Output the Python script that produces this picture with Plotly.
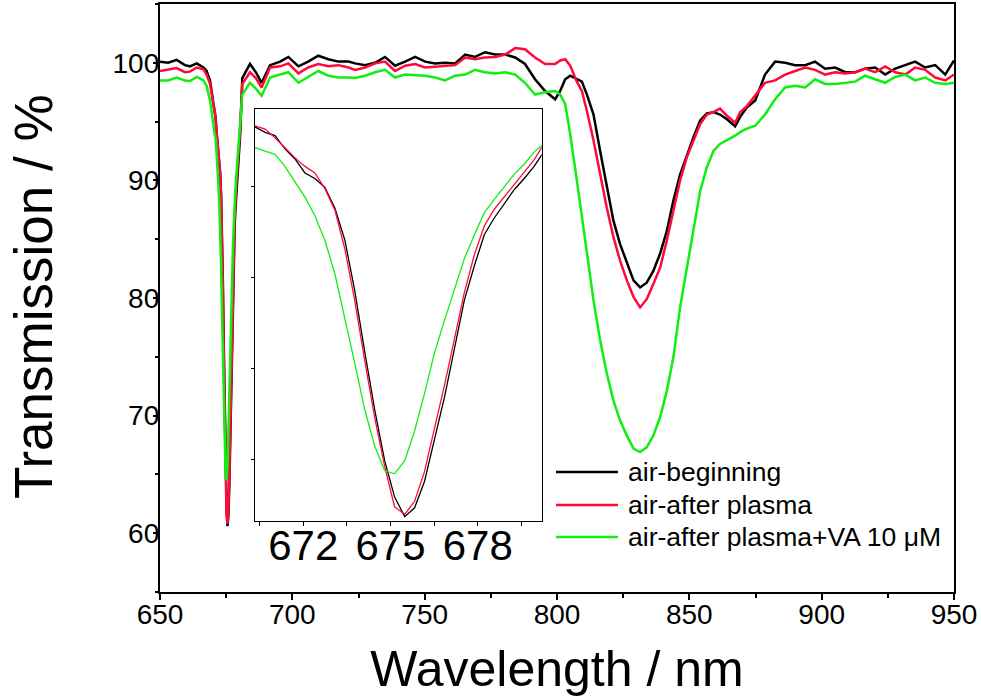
import plotly.graph_objects as go

# wavelength (nm) and transmission (%)
wavelength = [650.0, 653.1, 656.3, 659.4, 661.3, 663.9, 666.4, 667.6, 668.9,
              670.34, 670.69, 671.03, 671.37, 671.71, 672.06, 672.40, 672.74, 673.09, 673.43,
              673.77, 674.11, 674.46, 674.80, 675.14, 675.49, 675.83, 676.17, 676.51, 676.86,
              677.20, 677.54, 677.89, 678.23, 678.57, 678.91, 679.26, 679.60, 679.94, 680.29,
              681.1, 684.0, 686.2, 688.4, 691.6, 695.4, 698.5, 702.3, 706.0, 709.8, 713.6, 717.4, 721.2,
              723.7, 727.5, 731.3, 735.0, 738.8, 742.6, 746.4, 750.2, 753.9, 757.7, 761.5, 765.3,
              769.0, 772.8, 776.6, 780.4, 784.2, 787.9, 791.7, 795.5,
              799.3, 801.2, 803.1, 805.0, 807.5, 809.4, 811.3, 813.8, 816.3, 818.8, 821.3, 823.8,
              826.4, 828.9, 831.4, 833.9, 836.4, 839.0, 841.5, 844.0, 846.5, 849.1, 851.6, 854.1,
              856.6, 859.1, 861.6, 864.2, 867.3, 869.2, 871.7,
              874.9, 878.6, 882.4, 886.2, 890.0, 893.8, 897.5, 901.3, 905.1, 908.9, 912.7, 916.4,
              920.2, 924.0, 927.8, 931.6, 935.3, 939.1, 942.9, 946.7, 950.0]

air_beginning = [100.1, 100.0, 100.25, 99.8, 99.7, 99.95, 99.6, 99.3, 98.5,
                 96.1, 95.6, 95.3, 94.1, 93.2, 91.9, 91.4, 90.6, 88.7, 85.8,
                 81.2, 75.7, 70.3, 65.7, 62.4, 60.6, 61.4, 63.8, 67.6, 71.5,
                 75.9, 80.3, 83.5, 86.3, 87.8, 89.1, 90.4, 91.4, 92.5, 93.9,
                 98.7, 99.9, 99.2, 98.3, 99.8, 100.1, 100.5, 99.7, 100.1, 100.6, 100.3, 100.1, 100.1,
                 99.95, 99.8, 100.0, 100.5, 99.75, 100.1, 100.5, 100.1, 99.95, 100.0, 99.95, 100.7,
                 100.5, 100.9, 100.7, 100.7, 100.45, 99.9, 98.6, 97.6,
                 96.9, 97.6, 98.6, 98.9, 98.6, 98.4, 97.3, 95.6, 92.5, 89.7, 86.6, 84.6,
                 83.0, 81.5, 80.9, 81.3, 82.3, 83.8, 85.7, 88.3, 90.5, 92.2, 93.7, 95.1,
                 95.7, 95.8, 95.6, 95.2, 94.6, 95.4, 96.2,
                 96.8, 99.0, 100.1, 100.0, 99.8, 99.8, 100.1, 99.5, 99.6, 99.2, 99.2, 99.5,
                 99.6, 99.0, 99.5, 99.8, 100.1, 99.6, 99.8, 99.0, 100.2]

air_after_plasma = [99.3, 99.4, 99.55, 99.2, 99.25, 99.6, 99.45, 99.0, 98.2,
                    96.2, 95.9, 95.1, 94.2, 93.3, 92.5, 91.9, 90.5, 88.5, 85.0,
                    80.3, 74.9, 69.6, 65.2, 61.5, 60.8, 62.0, 64.7, 68.5, 72.6,
                    76.8, 81.0, 84.5, 87.1, 88.6, 89.7, 90.9, 91.9, 93.1, 94.6,
                    98.2, 99.2, 98.7, 97.9, 99.6, 99.7, 99.95, 99.1, 99.6, 99.9, 99.7, 99.8, 99.6,
                    99.4, 99.6, 99.95, 100.1, 99.3, 99.75, 99.9, 99.6, 99.65, 99.75, 99.8, 100.45,
                    100.3, 100.45, 100.5, 100.7, 101.25, 101.15, 100.45, 99.9,
                    99.9, 100.2, 100.3, 99.75, 98.4, 97.6, 95.9, 93.4, 90.5, 87.7, 85.2, 83.2,
                    81.5, 80.1, 79.2, 79.9, 81.2, 82.6, 84.9, 87.4, 90.0, 92.0, 93.4, 94.8,
                    95.6, 95.8, 96.1, 95.5, 94.9, 95.8, 96.3,
                    97.2, 98.3, 98.5, 99.0, 99.3, 99.6, 99.4, 99.0, 99.2, 99.1, 99.2, 99.5,
                    99.2, 99.7, 99.2, 99.0, 99.6, 99.4, 98.75, 98.5, 99.0]

air_plasma_va = [98.5, 98.5, 98.75, 98.5, 98.45, 98.8, 98.5, 98.05, 96.8,
                 94.2, 93.9, 93.6, 92.5, 91.1, 89.7, 88.0, 85.8, 82.7, 78.8,
                 74.6, 70.4, 67.0, 64.8, 64.5, 65.7, 68.4, 71.8, 75.5, 78.5,
                 81.3, 84.1, 86.3, 88.3, 89.5, 90.6, 91.8, 92.7, 93.8, 94.6,
                 97.3, 98.3, 97.8, 97.2, 98.75, 99.0, 99.2, 98.3, 98.8, 99.3, 98.9, 98.75, 98.75,
                 98.7, 98.9, 99.2, 99.4, 98.75, 99.0, 98.98, 98.9, 98.75, 98.5, 98.9, 99.0,
                 99.4, 99.2, 99.1, 99.2, 99.0, 98.3, 97.3, 97.5,
                 97.6, 97.3, 96.5, 93.9, 90.0, 86.8, 83.8, 79.8, 76.4, 73.6, 71.3, 69.6,
                 68.3, 67.2, 66.9, 67.3, 68.3, 69.9, 72.1, 75.0, 79.2, 82.6, 86.0, 89.1,
                 91.1, 92.5, 93.1, 93.4, 93.8, 94.1, 94.4,
                 94.65, 95.6, 96.9, 97.9, 98.05, 97.9, 98.6, 98.2, 98.2, 98.3, 98.4, 98.9,
                 98.6, 98.3, 98.8, 99.0, 98.5, 98.75, 98.3, 98.2, 98.3]

series_names = ["air-beginning", "air-after plasma", "air-after plasma+VA 10 \u03bcM"]
series_values = [air_beginning, air_after_plasma, air_plasma_va]
colors = ["#000000", "#ff0a3a", "#11ee11"]

inset_ticks = [672, 675, 678]

font_family = "Liberation Sans, Arial, sans-serif"

fig = go.Figure()
for name, vals, col in zip(series_names, series_values, colors):
    fig.add_trace(go.Scatter(x=wavelength, y=vals, mode="lines", name=name,
                             line=dict(color=col, width=2.5), xaxis="x", yaxis="y",
                             showlegend=False))
for name, vals, col in zip(series_names, series_values, colors):
    fig.add_trace(go.Scatter(x=wavelength, y=vals, mode="lines", name=name,
                             line=dict(color=col, width=1.3), xaxis="x2", yaxis="y2",
                             showlegend=False))

axis_common = dict(showgrid=False, zeroline=False, showline=True, linecolor="black",
                   ticks="outside", tickcolor="black", mirror=True, automargin=False)

fig.update_layout(
    width=981, height=698,
    margin=dict(l=160, r=27, t=4, b=106),
    paper_bgcolor="white", plot_bgcolor="white",
    font=dict(family=font_family, color="black"),
    xaxis=dict(axis_common, range=[650, 950], tick0=650, dtick=50, linewidth=2.3,
               ticklen=6, tickwidth=2, tickfont=dict(size=28), ticklabelstandoff=-10,
               minor=dict(dtick=25, ticks="outside", ticklen=3.5, tickwidth=1.5, tickcolor="black"),
               title=dict(text="Wavelength / nm", font=dict(size=50), standoff=22)),
    yaxis=dict(axis_common, range=[55, 105], tick0=60, dtick=10, linewidth=2.3,
               ticklen=5, tickwidth=2, tickfont=dict(size=28), ticklabelstandoff=-12,
               minor=dict(dtick=5, ticks="outside", ticklen=3, tickwidth=1.5, tickcolor="black")),
    xaxis2=dict(axis_common, domain=[0.1196, 0.4807], anchor="y2", range=[670.34, 680.2],
                tickvals=inset_ticks, linewidth=1.3, ticklen=4, tickwidth=1,
                tickfont=dict(size=42), ticklabelstandoff=-17,
                minor=dict(tick0=670.5, dtick=1.5, ticks="outside", ticklen=4, tickwidth=1,
                           tickcolor="black")),
    yaxis2=dict(axis_common, domain=[0.1207, 0.8209], anchor="x2", range=[60.2, 97.7],
                tick0=65.85, dtick=8.27, showticklabels=False, linewidth=1.3,
                ticklen=3, tickwidth=1),
)

# y title as an annotation so it can sit close to the page edge
fig.add_annotation(xref="paper", yref="paper", x=-0.16, y=0.5017, text="Transmission / %",
                   textangle=-90, showarrow=False, xanchor="center", yanchor="middle",
                   font=dict(size=53, color="black"))

# legend drawn by hand so the sample lines are as long as in the original
legend_y = [0.2041, 0.148, 0.0935]
for name, col, yy in zip(series_names, colors, legend_y):
    fig.add_shape(type="line", xref="paper", yref="paper", x0=0.4987, x1=0.5768,
                  y0=yy, y1=yy, line=dict(color=col, width=2.5))
    fig.add_annotation(xref="paper", yref="paper", x=0.5869, y=yy, text=name,
                       showarrow=False, xanchor="left", yanchor="middle",
                       font=dict(size=26.5, color="black"))

# drop the page's default body margin so the figure sits at the window corner
fig.write_html("out.html", config={"displayModeBar": False},
               post_script="document.body.style.margin='0';")
